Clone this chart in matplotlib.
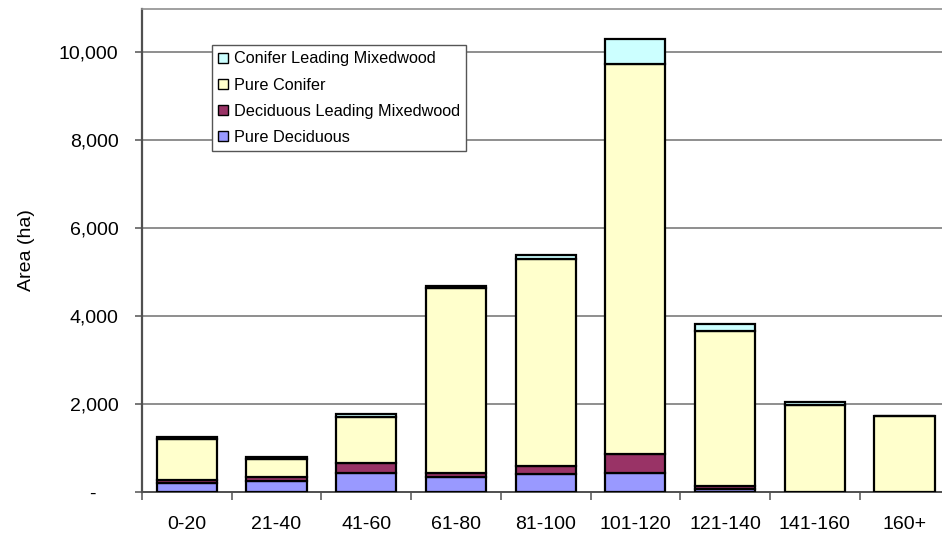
import matplotlib
matplotlib.use("Agg")
import matplotlib.pyplot as plt
import numpy as np

categories = ["0-20", "21-40", "41-60", "61-80", "81-100", "101-120", "121-140", "141-160", "160+"]
pure_deciduous = [220, 250, 448, 357, 411, 448, 85, 0, 0]
deciduous_leading = [60, 110, 228, 90, 190, 420, 60, 0, 0]
pure_conifer = [930, 400, 1044, 4193, 4709, 8873, 3535, 1990, 1740]
conifer_leading = [55, 55, 60, 56, 94, 576, 144, 55, 0]

y_ticks = [0, 2000, 4000, 6000, 8000, 10000]

plt.rcParams['font.family'] = ['Liberation Sans', 'DejaVu Sans']

W, H = 942, 534
fig = plt.figure(figsize=(W / 100, H / 100), dpi=100)
left_px, right_px = 142, 949.3
bottom_px, top_px = 492.4, 8.5
ax = fig.add_axes([left_px / W, 1 - bottom_px / H, (right_px - left_px) / W, (bottom_px - top_px) / H])

x = np.arange(len(categories))
bw = 0.672
ekw = dict(edgecolor='black', linewidth=1.6, zorder=3)
b1 = ax.bar(x, pure_deciduous, bw, color='#9999FF', label='Pure Deciduous', **ekw)
bot = np.array(pure_deciduous, dtype=float)
b2 = ax.bar(x, deciduous_leading, bw, bottom=bot, color='#993366', label='Deciduous Leading Mixedwood', **ekw)
bot = bot + np.array(deciduous_leading)
b3 = ax.bar(x, pure_conifer, bw, bottom=bot, color='#FFFFCC', label='Pure Conifer', **ekw)
bot = bot + np.array(pure_conifer)
b4 = ax.bar(x, conifer_leading, bw, bottom=bot, color='#CCFFFF', label='Conifer Leading Mixedwood', **ekw)

ax.set_xlim(-0.5, len(categories) - 0.5)
ax.set_ylim(0, 11000)
ax.set_yticks(y_ticks)
ax.set_yticklabels(["-    " if v == 0 else f"{v:,}" for v in y_ticks])
ax.set_xticks(x)
ax.set_xticklabels(categories)
ax.set_xticks(np.arange(len(categories) + 1) - 0.5, minor=True)
ax.tick_params(axis='x', which='major', length=0, pad=17, labelsize=14)
ax.tick_params(axis='x', which='minor', length=6, width=1.2, color='#606060', direction='out')
ax.tick_params(axis='y', length=5, width=1.2, color='#606060', pad=12, labelsize=14)

ax.yaxis.grid(True, color='#707070', linewidth=1.1, zorder=0)
ax.set_axisbelow(True)
ax.spines['right'].set_visible(False)
ax.spines['left'].set_color('#505050')
ax.spines['left'].set_linewidth(1.6)
ax.spines['bottom'].set_color('#505050')
ax.spines['bottom'].set_linewidth(1.4)
ax.spines['top'].set_color('#909090')
ax.spines['top'].set_linewidth(1.2)

ax.set_ylabel('Area (ha)', fontsize=14, labelpad=17)

leg = ax.legend(handles=[b4, b3, b2, b1], loc='upper left',
                bbox_to_anchor=(211.7 / W, 1 - 45 / H), bbox_transform=fig.transFigure,
                borderaxespad=0, fontsize=11.7, frameon=True, fancybox=False,
                edgecolor='#555555', framealpha=1, labelspacing=0.68,
                handlelength=0.6, handleheight=0.6, handletextpad=0.35,
                borderpad=0.4)
leg.get_frame().set_linewidth(1.0)
for h in leg.legend_handles:
    h.set_linewidth(1.0)

fig.savefig('out.png', dpi=100)
